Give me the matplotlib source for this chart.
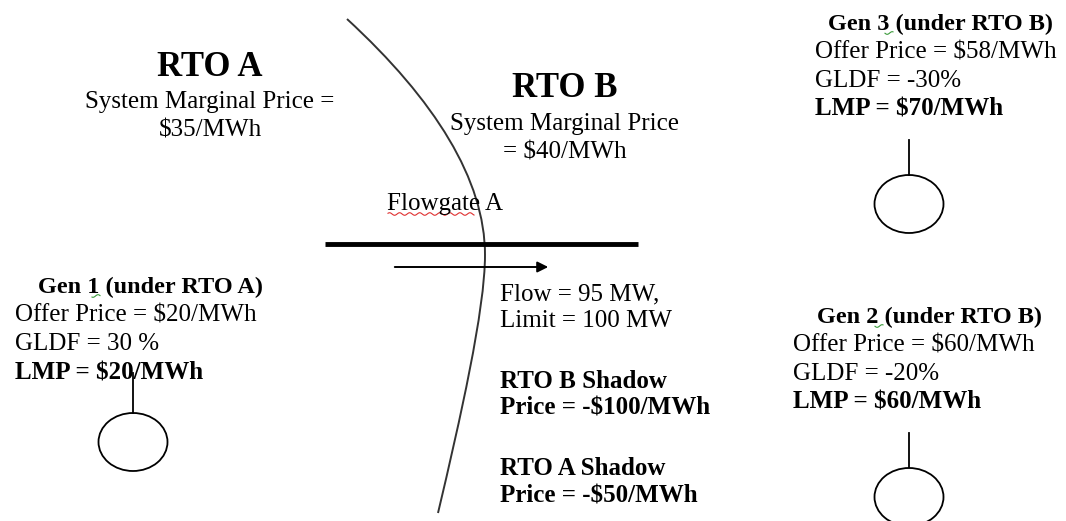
import matplotlib.pyplot as plt
import numpy as np
from matplotlib.patches import Ellipse, PathPatch
from matplotlib.path import Path

# Text content of the diagram
rto_names = ["RTO A", "RTO B"]
system_marginal_prices = [35, 40]

gen_titles = ["Gen 1 (under RTO A)", "Gen 2 (under RTO B)", "Gen 3 (under RTO B)"]
offer_prices = [20, 60, 58]
gldf_labels = ["30 %", "-20%", "-30%"]
lmp_values = [20, 60, 70]

flow_mw = 95
limit_mw = 100
shadow_rtos = ["RTO B", "RTO A"]
shadow_prices = [-100, -50]

FONT = "Liberation Serif"

fig = plt.figure(figsize=(10.66, 5.21), dpi=100)
ax = fig.add_axes([0, 0, 1, 1])
ax.set_xlim(0, 1066)
ax.set_ylim(521, 0)
ax.axis("off")


def txt(x, y, s, size=18, bold=False, ha="left"):
    ax.text(x, y, s, fontsize=size, fontfamily=FONT,
            fontweight="bold" if bold else "normal",
            ha=ha, va="baseline", color="black")


def squiggle(x0, x1, y, color):
    wx = np.linspace(x0, x1, 80)
    ax.plot(wx, y + 1.3 * np.sin(wx / 1.6), color=color, lw=0.8)


# seam between the RTOs, drawn as two bezier pieces
seam = Path(
    [(347, 19), (435, 100), (485, 180), (485, 255),
     (485, 310), (460, 420), (438, 513)],
    [Path.MOVETO, Path.CURVE4, Path.CURVE4, Path.CURVE4,
     Path.CURVE4, Path.CURVE4, Path.CURVE4],
)
ax.add_patch(PathPatch(seam, fill=False, ec="#333333", lw=1.4))

# flowgate and flow direction
ax.plot([325, 638], [244, 244], color="black", lw=3.5, solid_capstyle="butt")
ax.annotate("", xy=(551, 267), xytext=(392, 267),
            arrowprops=dict(arrowstyle="-|>", lw=1.4, color="black",
                            mutation_scale=16))

# RTO headers
for (cx, y_title, y_l1, y_l2), name, smp, two_lines in zip(
        [(210, 76, 108, 137), (565, 97, 130, 159)],
        rto_names, system_marginal_prices, [False, True]):
    txt(cx, y_title, name, size=25, bold=True, ha="center")
    if two_lines:
        txt(cx, y_l1, "System Marginal Price", ha="center")
        txt(cx, y_l2, f"= ${smp}/MWh", ha="center")
    else:
        txt(cx, y_l1, "System Marginal Price =", ha="center")
        txt(cx, y_l2, f"${smp}/MWh", ha="center")

txt(387, 210, "Flowgate A")
squiggle(388, 474, 214, "#e03030")

# flow / shadow price texts
txt(500, 300, f"Flow = {flow_mw} MW,")
txt(500, 327, f"Limit = {limit_mw} MW")
for (y1, y2), rto, sp in zip([(388, 414), (475, 503)], shadow_rtos, shadow_prices):
    txt(500, y1, f"{rto} Shadow", bold=True)
    txt(500, y2, f"Price = -${abs(sp)}/MWh", bold=True)

# generators: title x, lines x, title baseline, line step, stick x, stick top/bottom, ellipse y, digit x
gen_layout = [
    (38, 15, 293, 28.7, 133, 373, 413, 442, 92),
    (817, 793, 323, 28.5, 909, 433, 467, 497, 875),
    (828, 815, 30, 28.5, 909, 140, 175, 204, 885),
]
for (tx, lx, ty, dy, sx, s0, s1, ey, dx), title, op, gl, lmp in zip(
        gen_layout, gen_titles, offer_prices, gldf_labels, lmp_values):
    txt(tx, ty, title, size=17.5, bold=True)
    squiggle(dx, dx + 8, ty + 3, "#3a9a3a")
    txt(lx, ty + dy, f"Offer Price = ${op}/MWh")
    txt(lx, ty + 2 * dy, f"GLDF = {gl}")
    txt(lx, ty + 3 * dy, f"LMP = ${lmp}/MWh", bold=True)
    ax.plot([sx, sx], [s0, s1], color="black", lw=1.3)
    ax.add_patch(Ellipse((sx, ey), 69, 58, fill=False, lw=1.3, ec="black"))

fig.savefig("out.png", dpi=100)
